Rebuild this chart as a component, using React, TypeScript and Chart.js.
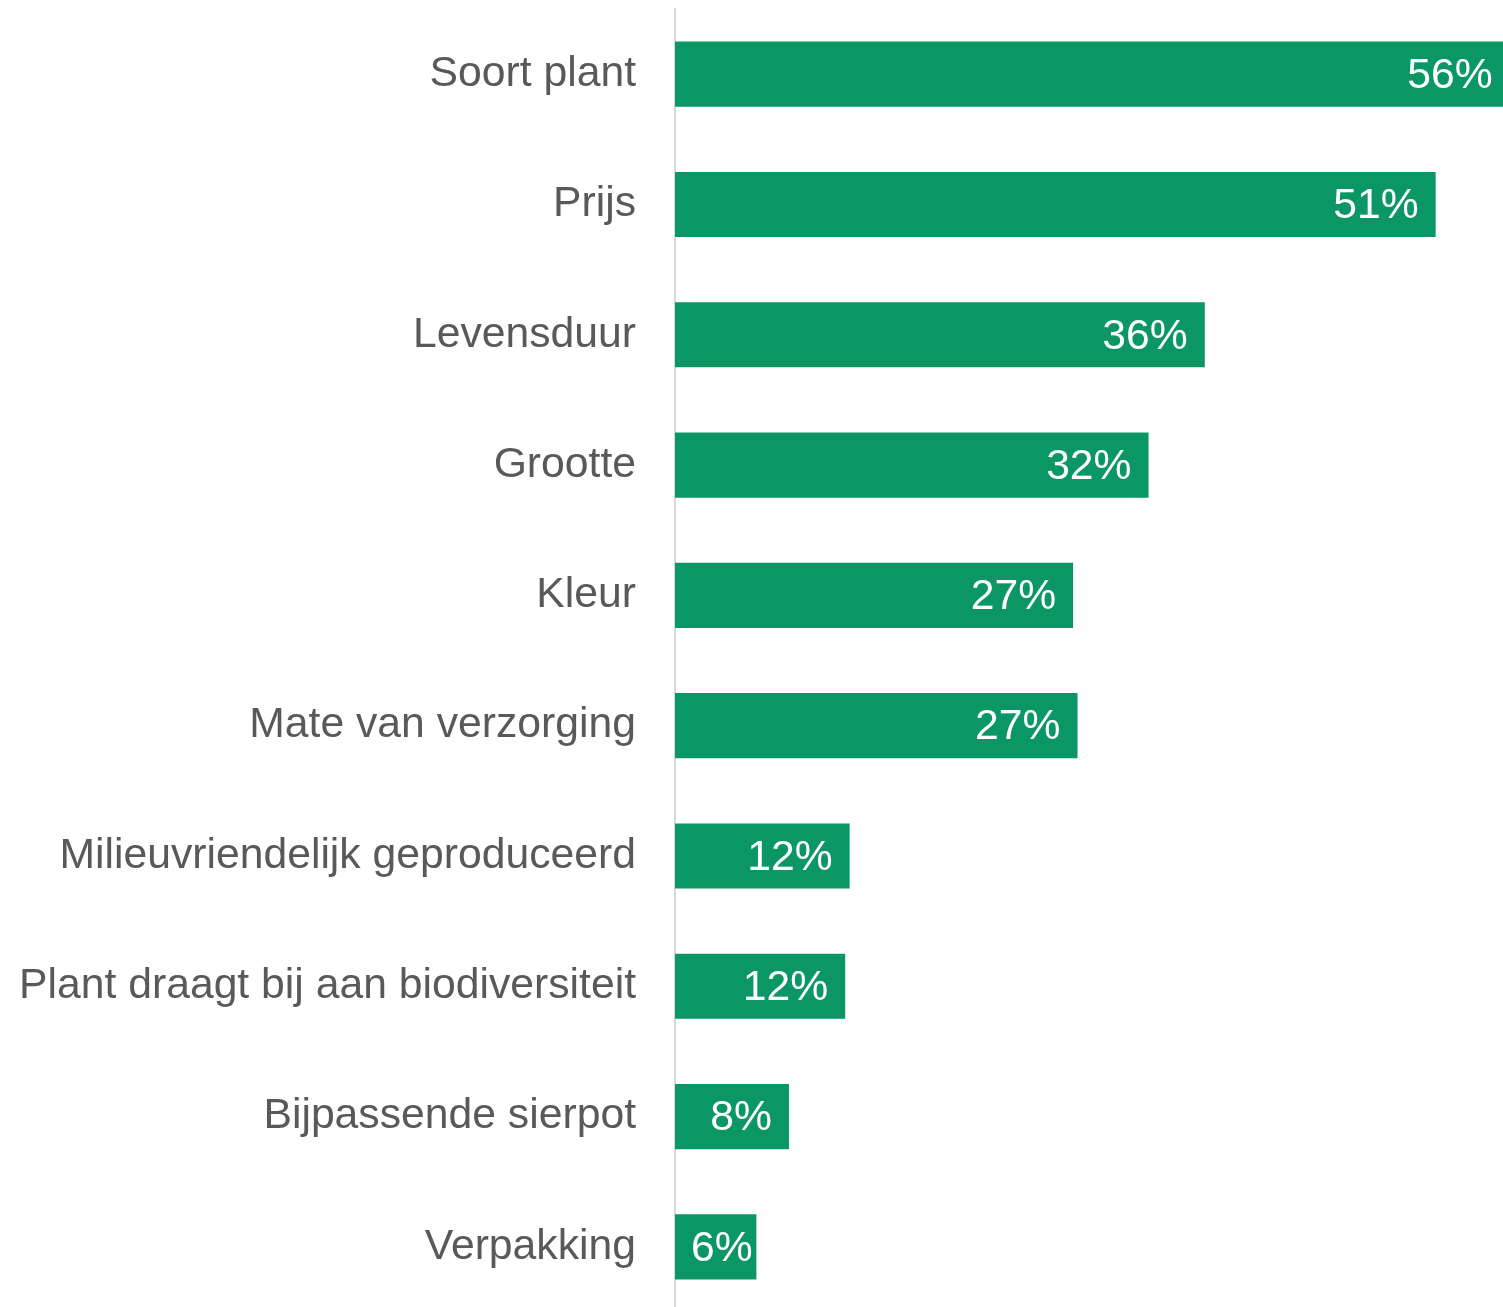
import React, { useEffect, useRef } from "react";
import { Chart, registerables } from "chart.js";

Chart.register(...registerables);

const categories = [
  "Soort plant",
  "Prijs",
  "Levensduur",
  "Grootte",
  "Kleur",
  "Mate van verzorging",
  "Milieuvriendelijk geproduceerd",
  "Plant draagt bij aan biodiversiteit",
  "Bijpassende sierpot",
  "Verpakking",
];
const values = [56.4, 51.4, 35.8, 32.0, 26.9, 27.2, 11.8, 11.5, 7.7, 5.5];
const axisMax = 55.95;

const BAR_COLOR = "#0a9765";
const TEXT_COLOR = "#595959";
const FONT = "'Liberation Sans', Arial, sans-serif";
const FONT_SIZE = 42.7;

const valueLabels = {
  id: "valueLabels",
  afterDatasetsDraw(chart: any) {
    const { ctx } = chart;
    const meta = chart.getDatasetMeta(0);
    const xs = chart.scales.x;
    ctx.save();
    ctx.font = `${FONT_SIZE}px ${FONT}`;
    ctx.fillStyle = "#ffffff";
    ctx.textBaseline = "middle";
    ctx.textAlign = "right";
    meta.data.forEach((bar: any, i: number) => {
      const v = values[i];
      const text = `${Math.round(v)}%`;
      const w = ctx.measureText(text).width;
      const end = xs.getPixelForValue(v);
      const start = xs.getPixelForValue(0);
      const right = Math.max(end - 17, start + 16 + w);
      ctx.fillText(text, right, bar.y + 2);
    });
    ctx.restore();
  },
};

export default function App() {
  const ref = useRef<HTMLCanvasElement>(null);
  useEffect(() => {
    document.body.style.margin = "0";
    const canvas = ref.current!;
    const chart = new Chart(canvas, {
      type: "bar",
      data: {
        labels: categories,
        datasets: [
          {
            data: values,
            backgroundColor: BAR_COLOR,
            categoryPercentage: 1,
            barPercentage: 0.5,
            borderWidth: 0,
          },
        ],
      },
      options: {
        indexAxis: "y",
        responsive: false,
        animation: false,
        layout: { padding: { top: 9, right: 0, bottom: 0, left: 0 } },
        plugins: {
          legend: { display: false },
          tooltip: { enabled: false },
        },
        scales: {
          x: {
            min: 0,
            max: axisMax,
            display: false,
          },
          y: {
            afterFit(scale: any) {
              scale.width = 675;
              scale.paddingTop = 0;
              scale.paddingBottom = 0;
            },
            grid: { display: false, drawTicks: false },
            border: { display: true, color: "#d9d9d9", width: 2 },
            ticks: {
              color: TEXT_COLOR,
              padding: 39,
              font: { family: FONT, size: FONT_SIZE },
            },
          },
        },
      },
      plugins: [valueLabels],
    });
    return () => chart.destroy();
  }, []);
  return (
    <div style={{ width: 1503, height: 1307, overflow: "hidden", background: "#fff" }}>
      <canvas ref={ref} width={1503} height={1312} style={{ display: "block" }} />
    </div>
  );
}
